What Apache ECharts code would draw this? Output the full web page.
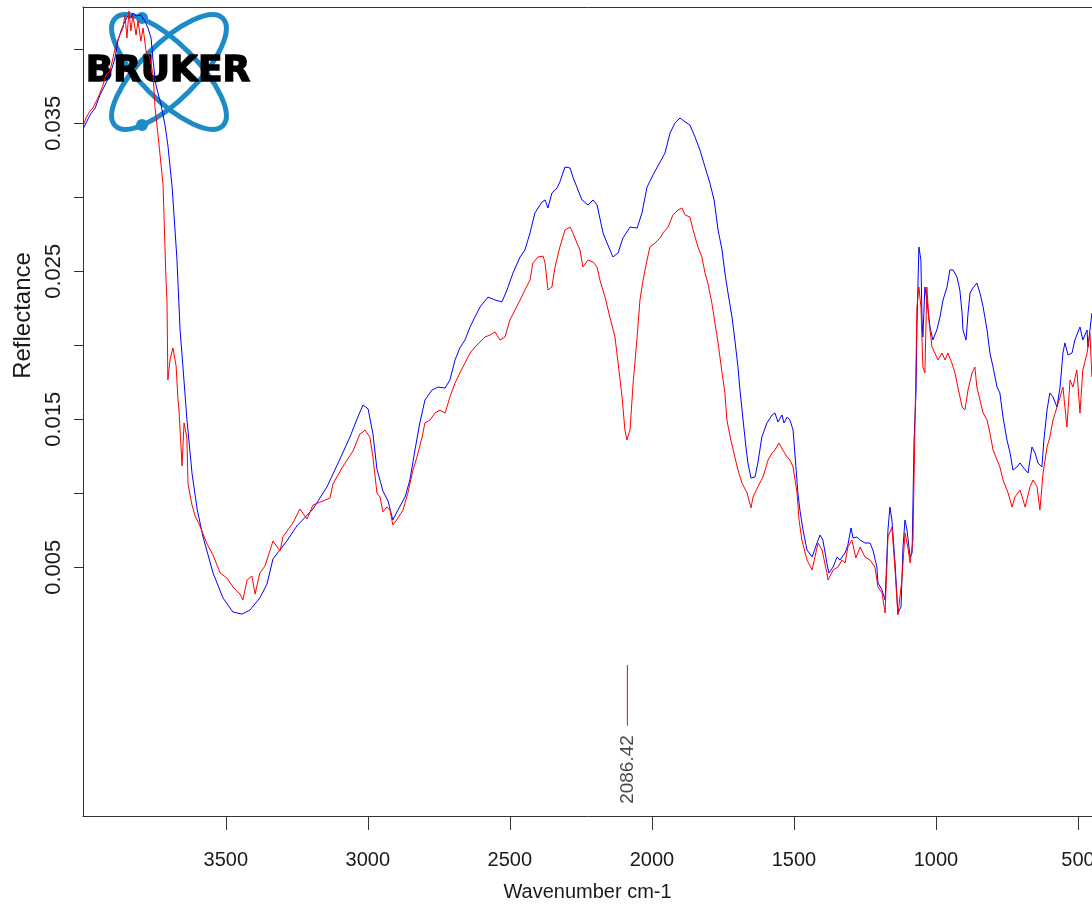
<!DOCTYPE html>
<html><head><meta charset="utf-8">
<script src="https://cdn.jsdelivr.net/npm/echarts@6/dist/echarts.min.js"></script>
<style>html,body{margin:0;padding:0;background:#fff}#c{width:1092px;height:914px}</style>
</head><body><div id="c"></div>
<script>
// ---- data (wavenumber cm-1 / reflectance) ----
const blueWn = [4001,3978,3960,3943,3925,3908,3890,3880,3869,3855,
3844,3834,3827,3816,3799,3785,3774,3763,3756,3746,
3728,3714,3704,3689,3672,3661,3651,3637,3619,3601,
3580,3545,3510,3475,3443,3415,3380,3355,3334,3285,
3250,3193,3144,3098,3063,3038,3017,2999,2982,2968,
2947,2929,2912,2894,2869,2852,2834,2817,2799,2774,
2753,2728,2711,2693,2676,2658,2640,2623,2605,2577,
2552,2528,2510,2489,2464,2447,2429,2412,2387,2376,
2366,2352,2334,2324,2306,2288,2278,2260,2246,2225,
2207,2193,2172,2155,2137,2119,2102,2077,2052,2035,
2017,1996,1971,1954,1936,1919,1901,1883,1866,1848,
1831,1813,1796,1781,1767,1753,1743,1732,1718,1708,
1697,1690,1679,1669,1662,1651,1637,1627,1613,1595,
1577,1567,1556,1542,1535,1524,1514,1503,1493,1486,
1479,1468,1454,1436,1419,1408,1398,1384,1377,1362,
1348,1338,1320,1310,1299,1292,1278,1267,1250,1232,
1222,1208,1204,1190,1179,1169,1162,1155,1144,1134,
1123,1116,1109,1102,1091,1084,1081,1077,1070,1067,
1063,1060,1053,1049,1046,1039,1032,1021,1011,997,
986,975,961,951,940,926,916,908,905,894,
887,880,870,856,845,834,820,810,799,785,
775,764,750,739,729,715,704,694,676,662,
651,641,627,620,609,599,588,574,563,553,
546,535,521,511,493,483,468,465,451];
const blueVal = [0.03468,0.03556,0.03603,0.03691,0.03759,0.03826,0.03941,0.04056,0.04124,0.04191,
0.04225,0.04211,0.04245,0.04225,0.04232,0.04191,0.04144,0.04076,0.03921,0.03759,
0.03624,0.03489,0.03353,0.03070,0.02583,0.02103,0.01860,0.01502,0.01137,0.00894,
0.00705,0.00462,0.00293,0.00198,0.00184,0.00211,0.00293,0.00387,0.00556,0.00678,
0.00779,0.00894,0.01043,0.01232,0.01380,0.01502,0.01597,0.01570,0.01401,0.01164,
0.01016,0.00948,0.00820,0.00887,0.00975,0.01090,0.01293,0.01475,0.01630,0.01698,
0.01718,0.01711,0.01766,0.01901,0.01982,0.02036,0.02124,0.02191,0.02259,0.02326,
0.02306,0.02293,0.02374,0.02489,0.02597,0.02644,0.02759,0.02894,0.02968,0.02982,
0.02928,0.03029,0.03063,0.03103,0.03205,0.03198,0.03137,0.03049,0.02982,0.02948,
0.02982,0.02948,0.02759,0.02678,0.02597,0.02624,0.02725,0.02799,0.02792,0.02894,
0.03070,0.03151,0.03239,0.03299,0.03434,0.03502,0.03536,0.03509,0.03488,0.03407,
0.03320,0.03205,0.03097,0.02982,0.02779,0.02644,0.02489,0.02353,0.02191,0.02036,
0.01853,0.01698,0.01495,0.01313,0.01205,0.01103,0.01110,0.01205,0.01380,0.01475,
0.01529,0.01543,0.01482,0.01529,0.01475,0.01515,0.01495,0.01428,0.01178,0.01002,
0.00887,0.00752,0.00617,0.00570,0.00664,0.00718,0.00684,0.00529,0.00461,0.00502,
0.00570,0.00549,0.00597,0.00651,0.00766,0.00698,0.00705,0.00684,0.00664,0.00664,
0.00617,0.00502,0.00394,0.00347,0.00279,0.00752,0.00907,0.00820,0.00529,0.00191,
0.00232,0.00637,0.00820,0.00752,0.00570,0.00597,0.00934,0.01360,0.01698,0.02124,
0.02441,0.02664,0.02576,0.02171,0.02056,0.02394,0.02306,0.02124,0.02036,0.02103,
0.02191,0.02306,0.02394,0.02509,0.02509,0.02462,0.02374,0.02218,0.02103,0.02036,
0.02218,0.02353,0.02387,0.02421,0.02353,0.02259,0.02103,0.01948,0.01853,0.01718,
0.01678,0.01515,0.01360,0.01272,0.01157,0.01178,0.01205,0.01178,0.01137,0.01313,
0.01272,0.01205,0.01178,0.01360,0.01563,0.01678,0.01651,0.01583,0.01718,0.01948,
0.02016,0.01934,0.01948,0.02036,0.02124,0.02036,0.02103,0.01988,0.02218];

const redWn = [4001,3992,3978,3968,3950,3932,3922,3908,3897,3887,
3873,3862,3855,3848,3841,3834,3827,3816,3809,3799,
3791,3781,3767,3756,3749,3739,3725,3721,3711,3707,
3704,3696,3686,3675,3668,3665,3654,3647,3637,3633,
3619,3608,3591,3566,3545,3520,3496,3475,3450,3440,
3425,3408,3397,3380,3362,3345,3334,3309,3299,3264,
3239,3214,3193,3133,3123,3087,3052,3028,3017,3010,
2993,2982,2968,2957,2947,2933,2922,2912,2894,2876,
2859,2841,2827,2809,2799,2781,2764,2746,2728,2711,
2693,2676,2658,2640,2623,2605,2588,2570,2552,2535,
2517,2500,2482,2464,2447,2429,2419,2401,2383,2376,
2366,2352,2341,2324,2306,2288,2278,2264,2253,2243,
2225,2207,2193,2183,2165,2148,2130,2119,2105,2095,
2088,2077,2066,2052,2042,2031,2017,2007,1989,1971,
1961,1943,1926,1908,1894,1883,1866,1855,1838,1824,
1813,1803,1789,1778,1767,1753,1743,1736,1722,1708,
1697,1683,1665,1651,1644,1627,1609,1591,1577,1567,
1553,1539,1524,1514,1503,1489,1482,1472,1454,1436,
1426,1415,1401,1384,1380,1362,1345,1331,1320,1310,
1296,1282,1267,1250,1232,1215,1204,1190,1179,1169,
1155,1144,1134,1120,1109,1099,1091,1081,1074,1070,
1067,1060,1053,1046,1039,1032,1025,1014,1004,993,
979,968,958,944,933,923,908,898,887,873,
863,856,845,834,820,810,799,785,775,764,
746,732,722,704,686,669,658,644,634,623,
609,599,588,574,563,553,539,528,518,504,
493,483,468,458,451];
const redVal = [0.03489,0.03536,0.03583,0.03603,0.03671,0.03759,0.03826,0.03853,0.03941,0.04029,
0.04097,0.04144,0.04232,0.04076,0.04259,0.04124,0.04232,0.04097,0.04191,0.04056,
0.04144,0.03989,0.03941,0.03826,0.03603,0.03428,0.03164,0.03090,0.02468,0.02299,
0.01766,0.01907,0.01982,0.01860,0.01624,0.01570,0.01184,0.01475,0.01380,0.01063,
0.00921,0.00846,0.00779,0.00657,0.00583,0.00462,0.00428,0.00367,0.00319,0.00279,
0.00414,0.00441,0.00319,0.00462,0.00509,0.00610,0.00678,0.00610,0.00705,0.00799,
0.00894,0.00826,0.00921,0.00968,0.01063,0.01184,0.01286,0.01401,0.01414,0.01428,
0.01380,0.01245,0.01002,0.00975,0.00874,0.00907,0.00887,0.00786,0.00833,0.00887,
0.01002,0.01157,0.01245,0.01380,0.01475,0.01495,0.01542,0.01563,0.01542,0.01651,
0.01745,0.01813,0.01880,0.01948,0.01988,0.02022,0.02056,0.02069,0.02090,0.02036,
0.02056,0.02171,0.02238,0.02306,0.02374,0.02441,0.02556,0.02597,0.02603,0.02556,
0.02374,0.02394,0.02529,0.02664,0.02779,0.02799,0.02759,0.02691,0.02644,0.02529,
0.02576,0.02563,0.02529,0.02441,0.02326,0.02191,0.02056,0.01880,0.01651,0.01428,
0.01360,0.01428,0.01745,0.02056,0.02306,0.02441,0.02576,0.02664,0.02691,0.02725,
0.02759,0.02799,0.02880,0.02914,0.02928,0.02880,0.02867,0.02779,0.02664,0.02597,
0.02489,0.02421,0.02286,0.02151,0.02016,0.01813,0.01678,0.01495,0.01360,0.01245,
0.01157,0.01070,0.01002,0.00901,0.00975,0.01043,0.01110,0.01225,0.01272,0.01292,
0.01340,0.01292,0.01245,0.01225,0.01178,0.01002,0.00820,0.00684,0.00549,0.00482,
0.00570,0.00664,0.00617,0.00462,0.00414,0.00482,0.00502,0.00549,0.00529,0.00637,
0.00684,0.00563,0.00637,0.00570,0.00549,0.00502,0.00367,0.00327,0.00191,0.00705,
0.00772,0.00482,0.00178,0.00414,0.00732,0.00637,0.00529,0.00684,0.01448,0.01901,
0.02259,0.02394,0.02259,0.01853,0.01813,0.02394,0.02171,0.01988,0.01948,0.01901,
0.01948,0.01901,0.01948,0.01880,0.01813,0.01718,0.01583,0.01563,0.01698,0.01813,
0.01853,0.01718,0.01630,0.01542,0.01495,0.01407,0.01293,0.01225,0.01178,0.01090,
0.01002,0.00907,0.00975,0.01022,0.00907,0.01043,0.01090,0.01043,0.00887,0.01137,
0.01313,0.01380,0.01495,0.01583,0.01651,0.01718,0.01448,0.01766,0.01718,0.01833,
0.01542,0.01833,0.01948,0.02083,0.01786];

const xTicks = [3500, 3000, 2500, 2000, 1500, 1000, 500];
const yTicks = [0.005, 0.010, 0.015, 0.020, 0.025, 0.030, 0.035, 0.040];
const yTickLabels = [0.005, 0.015, 0.025, 0.035];
const peakWn = 2086.42;
const peakText = '2086.42';
const xTitle = 'Wavenumber cm-1';
const yTitle = 'Reflectance';
const logoText = 'BRUKER';

// ---- chart ----
const pair = (xs, ys) => xs.map((x, i) => [x, ys[i]]);
const FONT = '"Liberation Sans", Arial, sans-serif';
const INK = '#1a1a1a';
const FRAME = '#333';
const peakMarkTop = -0.0016, peakMarkBottom = -0.0057; // marker segment extent (drawing style)
const logoBlue = '#1c8cc6';
const X_MIN = 450.7, X_MAX = 4002.7, Y_MIN = -0.011804, Y_MAX = 0.042858;

const chart = echarts.init(document.getElementById('c'), null, {renderer: 'canvas'});
chart.setOption({
  animation: false,
  backgroundColor: '#ffffff',
  grid: {left: 83, top: 7, right: 0, bottom: 98, show: false, containLabel: false, outerBoundsMode: 'none'},
  xAxis: [{
    type: 'value', inverse: true, min: X_MIN, max: X_MAX, position: 'bottom',
    axisLine: {show: true, onZero: false, lineStyle: {color: FRAME, width: 1}},
    splitLine: {show: false},
    axisTick: {show: true, length: 14, customValues: xTicks, lineStyle: {color: FRAME}},
    axisLabel: {customValues: xTicks, margin: 34, fontSize: 20, color: INK, fontFamily: FONT,
      formatter: v => String(v)},
    name: xTitle, nameLocation: 'middle', nameGap: 66,
    nameTextStyle: {fontSize: 20, color: INK, fontFamily: FONT}
  }, {
    type: 'value', inverse: true, min: X_MIN, max: X_MAX, position: 'top',
    axisLine: {show: true, onZero: false, lineStyle: {color: FRAME, width: 1}},
    axisTick: {show: false}, axisLabel: {show: false}, splitLine: {show: false}
  }],
  yAxis: {
    type: 'value', min: Y_MIN, max: Y_MAX,
    axisLine: {show: true, onZero: false, lineStyle: {color: FRAME, width: 1}},
    splitLine: {show: false},
    axisTick: {show: true, length: 9, customValues: yTicks, lineStyle: {color: FRAME}},
    axisLabel: {customValues: yTickLabels, rotate: 90, margin: 18, fontSize: 22, color: INK, fontFamily: FONT,
      formatter: v => v.toFixed(3)},
    name: yTitle, nameLocation: 'middle', nameGap: 48, nameRotate: 90,
    nameTextStyle: {fontSize: 24, color: INK, fontFamily: FONT, padding: [0, 0, 0, 192]}
  },
  series: [
    {type: 'line', data: pair(blueWn, blueVal), showSymbol: false, symbol: 'none', silent: true,
      lineStyle: {color: '#0000ff', width: 1}, itemStyle: {color: '#0000ff'}, z: 2},
    {type: 'line', data: pair(redWn, redVal), showSymbol: false, symbol: 'none', silent: true,
      lineStyle: {color: '#ff0000', width: 1}, itemStyle: {color: '#ff0000'}, z: 3},
    {type: 'line', data: [[peakWn, peakMarkTop], [peakWn, peakMarkBottom]], showSymbol: false, symbol: 'none',
      silent: true, lineStyle: {color: '#ff0000', width: 1}, z: 3},
    {type: 'scatter', data: [[peakWn, peakMarkBottom]], symbolSize: 1, silent: true,
      itemStyle: {color: 'rgba(0,0,0,0)'},
      label: {show: true, formatter: peakText, rotate: 90, position: 'bottom', distance: 9,
        align: 'right', verticalAlign: 'middle', fontSize: 19, color: INK, fontFamily: FONT}, z: 4}
  ],
  graphic: [{
    type: 'group', z: 100, silent: true,
    children: [
      {type: 'ellipse', x: 169, y: 72, rotation: -Math.PI / 4, shape: {cx: 0, cy: 0, rx: 76, ry: 28},
        style: {fill: 'none', stroke: logoBlue, lineWidth: 5}},
      {type: 'ellipse', x: 169, y: 72, rotation: Math.PI / 4, shape: {cx: 0, cy: 0, rx: 76, ry: 28},
        style: {fill: 'none', stroke: logoBlue, lineWidth: 5}},
      {type: 'circle', shape: {cx: 142, cy: 18, r: 6}, style: {fill: logoBlue}},
      {type: 'circle', shape: {cx: 142, cy: 125, r: 6}, style: {fill: logoBlue}},
      {type: 'text', x: 168, y: 72, style: {text: logoText, fontSize: 36, fontWeight: 'bold',
        fontFamily: '"DejaVu Sans", sans-serif', fill: '#000', stroke: '#000', lineWidth: 1.5,
        align: 'center', verticalAlign: 'middle'}}
    ]
  }]
});
</script></body></html>
